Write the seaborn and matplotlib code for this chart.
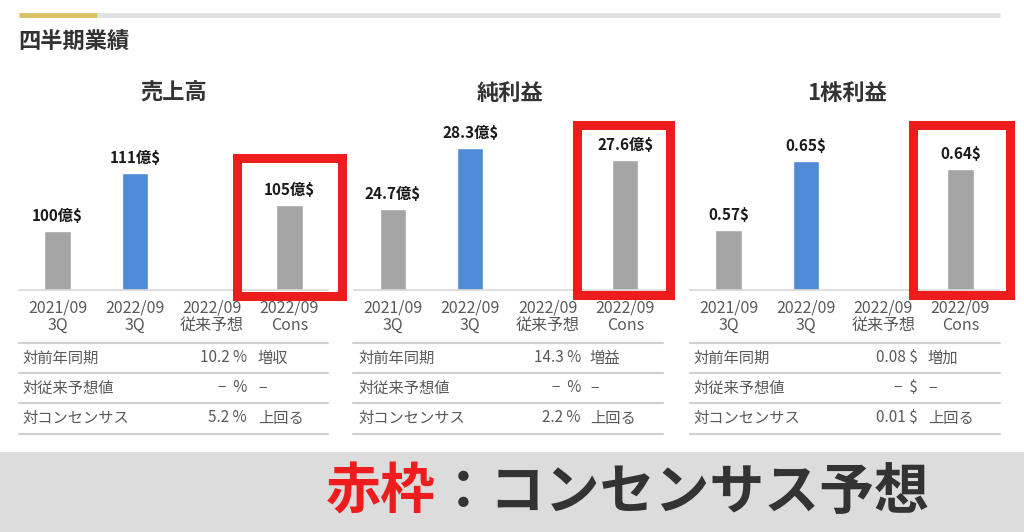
import numpy as np
import pandas as pd
import seaborn as sns
import matplotlib.pyplot as plt
from matplotlib.patches import Rectangle

# data
periods = ['2021/09\n3Q', '2022/09\n3Q', '2022/09\n従来予想', '2022/09\nCons']
sales = [100, 111, np.nan, 105]
net_income = [24.7, 28.3, np.nan, 27.6]
eps = [0.57, 0.65, np.nan, 0.64]

titles = ['売上高', '純利益', '1株利益']
units = ['億$', '億$', '$']

row_names = ['対前年同期', '対従来予想値', '対コンセンサス']
sales_table = ['10.2 %', '−  %', '5.2 %']
sales_notes = ['増収', '−', '上回る']
net_table = ['14.3 %', '−  %', '2.2 %']
net_notes = ['増益', '−', '上回る']
eps_table = ['0.08 $', '−  $', '0.01 $']
eps_notes = ['増加', '−', '上回る']

GRAY = '#a5a5a5'
BLUE = '#4f8ad6'
RED = '#ee1c1c'
TXT = '#595959'
palette = dict(zip(periods, [GRAY, BLUE, GRAY, GRAY]))

sns.set_theme(style='white')
plt.rcParams['font.family'] = ['Noto Sans CJK JP', 'DejaVu Sans']

W, H = 1024, 532
fig = plt.figure(figsize=(W / 100, H / 100), dpi=100)
fig.patch.set_facecolor('white')


def px_axes(x0, y0, x1, y1):
    # pixel box (top-left origin) -> figure axes
    return fig.add_axes([x0 / W, 1 - y1 / H, (x1 - x0) / W, (y1 - y0) / H])


panels = [
    (sales, (88.8, 121.1), 19, 328, sales_table, sales_notes, (22, 247, 258)),
    (net_income, (19.9, 29.96), 354, 664, net_table, net_notes, (358, 581, 590)),
    (eps, (0.50, 0.697), 690, 999, eps_table, eps_notes, (693, 918, 928)),
]
boxes = [(237, 158, 342, 296), (577, 125, 670, 295), (913, 125, 1010, 295)]

for k, (vals, ylim, x0, x1, tvals, tnotes, cols) in enumerate(panels):
    df = pd.DataFrame({'period': periods, 'value': vals}).dropna()
    ax = px_axes(x0, 120, x1, 290)
    sns.barplot(data=df, x='period', y='value', hue='period', order=periods,
                hue_order=periods, palette=palette, width=0.34, legend=False,
                saturation=1, ax=ax)
    ax.set_ylim(*ylim)
    ax.set_xlim(-0.5, 3.5)
    for c in ax.containers:
        ax.bar_label(c, fmt='{:g}' + units[k], padding=5, fontsize=11,
                     fontweight='bold', color='#1a1a1a')
    ax.set_xlabel('')
    ax.set_ylabel('')
    ax.set_yticks([])
    ax.tick_params(axis='x', length=0, pad=7, labelsize=11.5, labelcolor=TXT)
    for lab in ax.get_xticklabels():
        lab.set_linespacing(1.0)
    for s in ['top', 'left', 'right']:
        ax.spines[s].set_visible(False)
    ax.spines['bottom'].set_color('#d9d9d9')
    ax.spines['bottom'].set_linewidth(1.2)
    ax.patch.set_alpha(0)

# overlay for header, tables, boxes, banner
ov = fig.add_axes([0, 0, 1, 1], zorder=5)
ov.set_xlim(0, W)
ov.set_ylim(H, 0)
ov.axis('off')

ov.plot([97, 1000], [15, 15], color='#e2e2e2', lw=3.5, solid_capstyle='butt')
ov.plot([19, 97], [15, 15], color='#d9c063', lw=3.5, solid_capstyle='butt')
ov.text(18, 41, '四半期業績', fontsize=16, fontweight='bold', color='#333333',
        ha='left', va='center')

centers = [174, 510, 847]
for t, cx in zip(titles, centers):
    ov.text(cx, 93, t, fontsize=16, fontweight='bold', color='#333333',
            ha='center', va='center')

tables = [(panels[i][4], panels[i][5], panels[i][6]) for i in range(3)]
line_x = [(19, 328), (353, 663), (690, 1000)]
for (tvals, tnotes, cols), (lx0, lx1) in zip(tables, line_x):
    for y in [343, 373, 403, 434]:
        ov.plot([lx0, lx1], [y, y], color='#d0d0d0', lw=1.5)
    for r, y in enumerate([358, 388, 418]):
        ov.text(cols[0], y, row_names[r], fontsize=11, color=TXT, ha='left', va='center')
        ov.text(cols[1], y, tvals[r], fontsize=11, color=TXT, ha='right', va='center')
        ov.text(cols[2], y, tnotes[r], fontsize=11, color=TXT, ha='left', va='center')

for bx0, by0, bx1, by1 in boxes:
    ov.add_patch(Rectangle((bx0, by0), bx1 - bx0, by1 - by0, fill=False,
                           edgecolor=RED, lw=6.5, joinstyle='miter'))

ov.add_patch(Rectangle((0, 452), W, 80, facecolor='#dcdcdc', edgecolor='none'))
t1 = ov.text(326, 492, '赤枠', fontsize=39.5, fontweight='bold', color=RED,
             ha='left', va='center')
fig.canvas.draw()
bb = t1.get_window_extent()
ov.text(bb.x1, 492, '：コンセンサス予想', fontsize=39.5, fontweight='bold',
        color='#333333', ha='left', va='center')

fig.savefig('out.png', dpi=100)
